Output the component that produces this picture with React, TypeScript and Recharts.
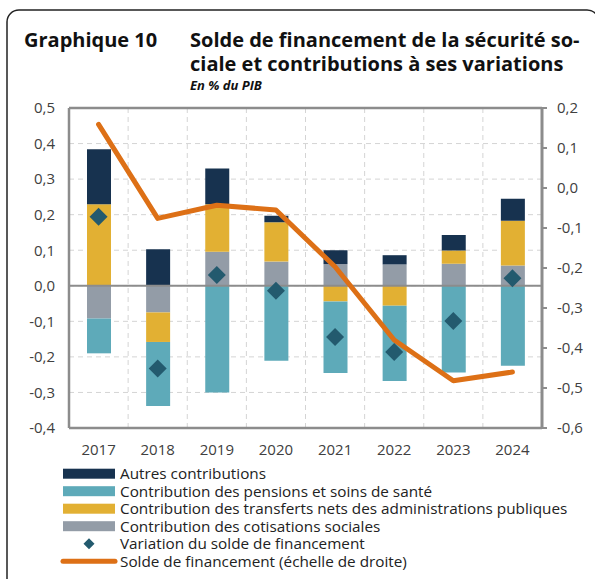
import React from 'react';
import { ComposedChart, Bar, Line, XAxis, YAxis, CartesianGrid, ReferenceLine } from 'recharts';

// values (% du PIB)
const years = ['2017', '2018', '2019', '2020', '2021', '2022', '2023', '2024'];
const autres = [0.155, 0.103, 0.101, 0.018, 0.039, 0.026, 0.044, 0.062];
const pensions = [-0.098, -0.18, -0.3, -0.211, -0.201, -0.212, -0.244, -0.225];
const transferts = [0.229, -0.083, 0.133, 0.111, -0.044, -0.056, 0.037, 0.126];
const cotisations = [-0.092, -0.075, 0.096, 0.068, 0.061, 0.06, 0.062, 0.057];
const variation = [0.194, -0.233, 0.03, -0.014, -0.144, -0.186, -0.099, 0.021];
const solde = [0.159, -0.076, -0.043, -0.055, -0.197, -0.38, -0.482, -0.46];

const leftTicks = [-0.4, -0.3, -0.2, -0.1, 0, 0.1, 0.2, 0.3, 0.4, 0.5];
const rightTicks = [-0.6, -0.5, -0.4, -0.3, -0.2, -0.1, 0, 0.1, 0.2];

const C = {
  autres: '#17324f',
  pensions: '#5eaab9',
  transferts: '#e2b033',
  cotisations: '#939ca7',
  diamond: '#235a6e',
  solde: '#dd7016',
  axis: '#8c8c8c',
};

const legendItems = [
  { label: 'Autres contributions', color: C.autres, kind: 'rect' },
  { label: 'Contribution des pensions et soins de santé', color: C.pensions, kind: 'rect' },
  { label: 'Contribution des transferts nets des administrations publiques', color: C.transferts, kind: 'rect' },
  { label: 'Contribution des cotisations sociales', color: C.cotisations, kind: 'rect' },
  { label: 'Variation du solde de financement', color: C.diamond, kind: 'diamond' },
  { label: 'Solde de financement (échelle de droite)', color: C.solde, kind: 'line' },
];

const data = years.map((year, i) => ({
  year,
  autres: autres[i],
  pensions: pensions[i],
  transferts: transferts[i],
  cotisations: cotisations[i],
  variation: variation[i],
  solde: solde[i],
}));

const FONT = "'Open Sans', 'DejaVu Sans', sans-serif";
const fmt = (v: number) => v.toFixed(1).replace('.', ',');

const Diamond = (props: any) => {
  const { cx, cy, index } = props;
  if (cx == null || cy == null) return <g key={index} />;
  const r = 9;
  return (
    <path
      key={index}
      d={`M${cx},${cy - r}L${cx + r},${cy}L${cx},${cy + r}L${cx - r},${cy}Z`}
      fill={C.diamond}
    />
  );
};

export default function App() {
  return (
    <div style={{ position: 'absolute', left: 0, top: 0, width: 595, height: 579, background: '#fff', overflow: 'hidden', fontFamily: FONT }}>
      <ComposedChart
        width={595}
        height={470}
        data={data}
        stackOffset="sign"
        margin={{ top: 108, right: 0, bottom: 0, left: 0 }}
      >
        <CartesianGrid
          yAxisId="left"
          stroke="#d4d4d4"
          strokeDasharray="5 4"
          verticalCoordinatesGenerator={({ offset }: any) =>
            [1, 2, 3, 4, 5, 6, 7].map((i) => offset.left + (offset.width * i) / 8)
          }
        />
        <XAxis
          dataKey="year"
          height={42}
          tickLine={false}
          axisLine={{ stroke: C.axis, strokeWidth: 2.5 }}
          tickMargin={10}
          tick={{ fontSize: 15, fill: '#404040', fontFamily: FONT }}
          interval={0}
        />
        <YAxis
          yAxisId="left"
          width={69}
          domain={[-0.4, 0.5]}
          ticks={leftTicks}
          tickFormatter={fmt}
          tickLine={false}
          tickSize={0}
          tickMargin={14}
          axisLine={{ stroke: C.axis, strokeWidth: 2.5 }}
          tick={{ fontSize: 15, fill: '#404040', fontFamily: FONT }}
          allowDataOverflow
        />
        <YAxis
          yAxisId="right"
          orientation="right"
          width={53}
          domain={[-0.6, 0.2]}
          ticks={rightTicks}
          tickFormatter={fmt}
          tickLine={{ stroke: C.axis, strokeWidth: 2 }}
          tickSize={5}
          tickMargin={10}
          axisLine={{ stroke: C.axis, strokeWidth: 3 }}
          tick={{ fontSize: 15, fill: '#404040', fontFamily: FONT }}
          allowDataOverflow
        />
        <Bar yAxisId="left" dataKey="cotisations" stackId="a" fill={C.cotisations} barSize={24} isAnimationActive={false} />
        <Bar yAxisId="left" dataKey="transferts" stackId="a" fill={C.transferts} barSize={24} isAnimationActive={false} />
        <Bar yAxisId="left" dataKey="pensions" stackId="a" fill={C.pensions} barSize={24} isAnimationActive={false} />
        <Bar yAxisId="left" dataKey="autres" stackId="a" fill={C.autres} barSize={24} isAnimationActive={false} />
        <ReferenceLine yAxisId="left" y={0} stroke={C.axis} strokeWidth={2} />
        <ReferenceLine yAxisId="left" y={0.5} stroke={C.axis} strokeWidth={2.5} />
        <Line
          yAxisId="right"
          dataKey="solde"
          stroke={C.solde}
          strokeWidth={5}
          dot={false}
          activeDot={false}
          strokeLinecap="round"
          strokeLinejoin="round"
          isAnimationActive={false}
        />
        <Line
          yAxisId="left"
          dataKey="variation"
          stroke="none"
          dot={Diamond}
          activeDot={false}
          isAnimationActive={false}
        />
      </ComposedChart>

      <svg width={595} height={579} style={{ position: 'absolute', left: 0, top: 0, pointerEvents: 'none' }}>
        <rect x={7} y={10} width={592} height={600} rx={12} fill="none" stroke="#222" strokeWidth={1.5} />
        <text x={24} y={47} fontFamily={FONT} fontWeight={700} fontSize={20} fill="#111">Graphique 10</text>
        <text x={190} y={47} fontFamily={FONT} fontWeight={700} fontSize={20} fill="#111">Solde de financement de la sécurité so-</text>
        <text x={190} y={70.5} fontFamily={FONT} fontWeight={700} fontSize={20} fill="#111">ciale et contributions à ses variations</text>
        <text x={190} y={90} fontFamily={FONT} fontWeight={700} fontStyle="italic" fontSize={13} fill="#111">En % du PIB</text>
        {legendItems.map((it, i) => {
          const cy = 473.7 + i * 17.5;
          return (
            <g key={it.label}>
              {it.kind === 'rect' && <rect x={63} y={cy - 5} width={52} height={10} fill={it.color} />}
              {it.kind === 'diamond' && (
                <path d={`M89,${cy - 5.5}L94.5,${cy}L89,${cy + 5.5}L83.5,${cy}Z`} fill={it.color} />
              )}
              {it.kind === 'line' && (
                <line x1={63} x2={115} y1={cy} y2={cy} stroke={it.color} strokeWidth={5} strokeLinecap="round" />
              )}
              <text x={120} y={cy + 5.5} fontFamily={FONT} fontSize={15.3} fill="#222">{it.label}</text>
            </g>
          );
        })}
      </svg>
    </div>
  );
}
